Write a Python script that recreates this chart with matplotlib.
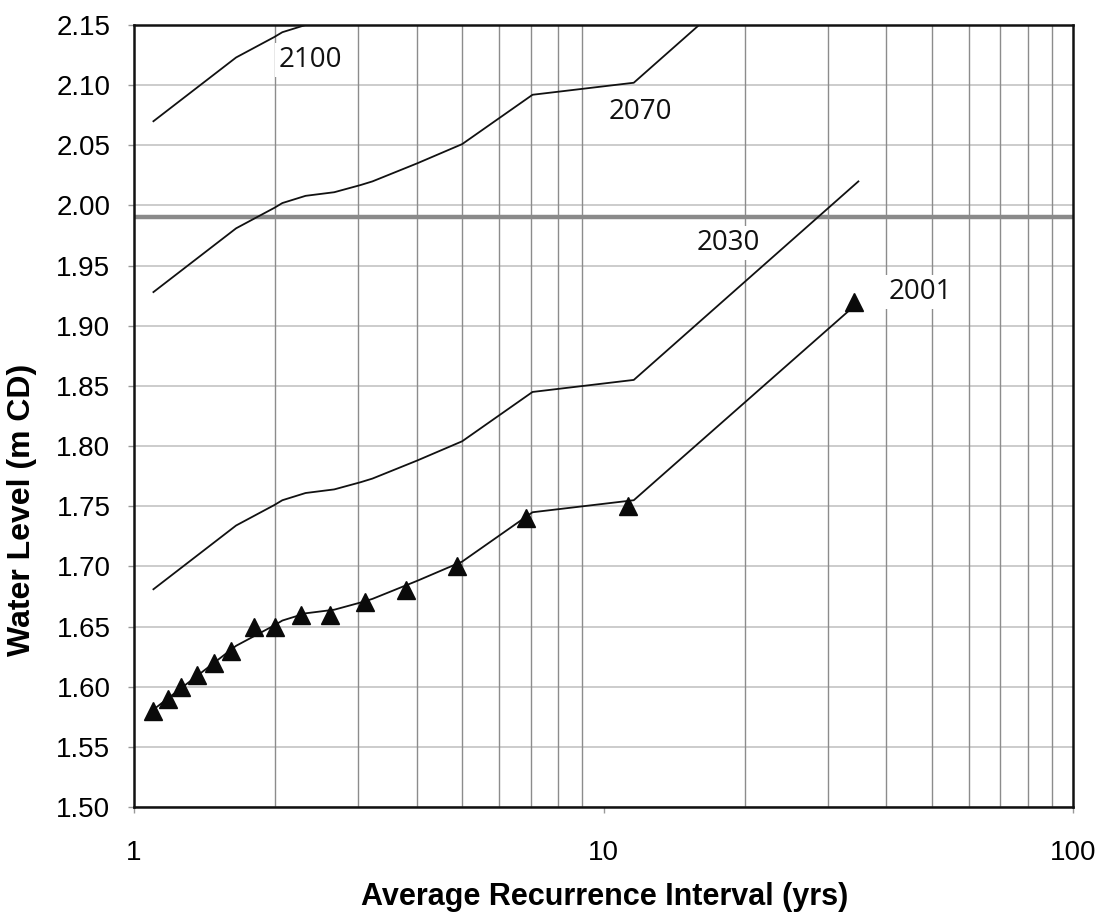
import numpy as np
import matplotlib.pyplot as plt
from matplotlib.ticker import FixedLocator, NullFormatter, FixedFormatter

# observed water levels (2001 record)
obs_ari = [1.10, 1.18, 1.26, 1.36, 1.48, 1.61, 1.80, 2.00, 2.27, 2.61, 3.11, 3.80, 4.87, 6.84, 11.3, 34.2]
obs_level = [1.58, 1.59, 1.60, 1.61, 1.62, 1.63, 1.65, 1.65, 1.66, 1.66, 1.67, 1.68, 1.70, 1.74, 1.75, 1.92]

# fitted curves for each year
fit_ari = [1.10, 1.65, 1.99, 2.07, 2.32, 2.67, 3.04, 3.22, 4.01, 5.00, 7.06, 11.6, 34.9]
fit_ari_2001 = [1.10, 1.65, 1.99, 2.07, 2.32, 2.67, 3.04, 3.22, 4.01, 5.00, 7.06, 11.6, 33.2]
level_2001 = [1.581, 1.634, 1.651, 1.655, 1.661, 1.664, 1.670, 1.673, 1.688, 1.704, 1.745, 1.755, 1.912]
level_2030 = [1.681, 1.734, 1.751, 1.755, 1.761, 1.764, 1.770, 1.773, 1.788, 1.804, 1.845, 1.855, 2.020]
level_2070 = [1.928, 1.981, 1.998, 2.002, 2.008, 2.011, 2.017, 2.020, 2.035, 2.051, 2.092, 2.102, 2.267]
level_2100 = [2.070, 2.123, 2.140, 2.144, 2.150, 2.153, 2.159, 2.162, 2.177, 2.193, 2.234, 2.244, 2.409]

threshold = 1.99

labels = ['2100', '2070', '2030', '2001']
label_x = [2.37, 12.0, 18.4, 47.2]
label_y = [2.121, 2.078, 1.969, 1.928]

yticks = np.round(np.arange(1.50, 2.151, 0.05), 2)
minor_x = [2, 3, 4, 5, 6, 7, 8, 9, 20, 30, 40, 50, 60, 70, 80, 90]

plt.rcParams['font.family'] = ['Liberation Sans', 'DejaVu Sans']

fig = plt.figure(figsize=(11.01, 9.22), dpi=100)
ax = fig.add_axes([0.1217, 0.1247, 0.8529, 0.8482])

ax.set_xscale('log')
ax.set_xlim(1, 100)
ax.set_ylim(1.50, 2.15)

# grid: horizontal every 0.05, vertical only on the minor decades
for y in yticks:
    ax.axhline(y, color='#c4c4c4', lw=1.2, zorder=1)
for x in minor_x:
    ax.axvline(x, color='#8c8c8c', lw=1.0, zorder=1)

ax.axhline(threshold, color='#8a8a8a', lw=3.2, zorder=2)

for lv, xs in [(level_2100, fit_ari), (level_2070, fit_ari), (level_2030, fit_ari), (level_2001, fit_ari_2001)]:
    ax.plot(xs, lv, color='#111111', lw=1.3, zorder=3)

ax.plot(obs_ari, obs_level, linestyle='none', marker='^', markersize=13,
        color='#0a0a0a', zorder=4)

for t, x, y in zip(labels, label_x, label_y):
    ax.text(x, y, t, ha='center', va='center', fontsize=20, family=['Open Sans', 'DejaVu Sans'],
            color='#111111', zorder=5,
            bbox=dict(facecolor='white', edgecolor='none', pad=2))

ax.set_yticks(yticks)
ax.set_yticklabels(['%.2f' % v for v in yticks])
ax.xaxis.set_major_locator(FixedLocator([1, 10, 100]))
ax.xaxis.set_major_formatter(FixedFormatter(['1', '10', '100']))
ax.xaxis.set_minor_locator(FixedLocator(minor_x))
ax.xaxis.set_minor_formatter(NullFormatter())

ax.tick_params(axis='both', which='major', labelsize=20, color='#999999', length=4, width=1)
ax.tick_params(axis='x', which='major', pad=20)
ax.tick_params(axis='y', which='major', pad=13)
ax.tick_params(axis='x', which='minor', length=0)

for s in ax.spines.values():
    s.set_linewidth(1.8)
    s.set_color('#111111')
    s.set_zorder(6)

fig.text(0.5493, 1 - 897 / 922, 'Average Recurrence Interval (yrs)', fontsize=22,
         fontweight='bold', ha='center', va='center')
fig.text(22 / 1101, 1 - 510 / 922, 'Water Level (m CD)', fontsize=23,
         fontweight='bold', ha='center', va='center', rotation=90)

fig.savefig('out.png', dpi=100)
